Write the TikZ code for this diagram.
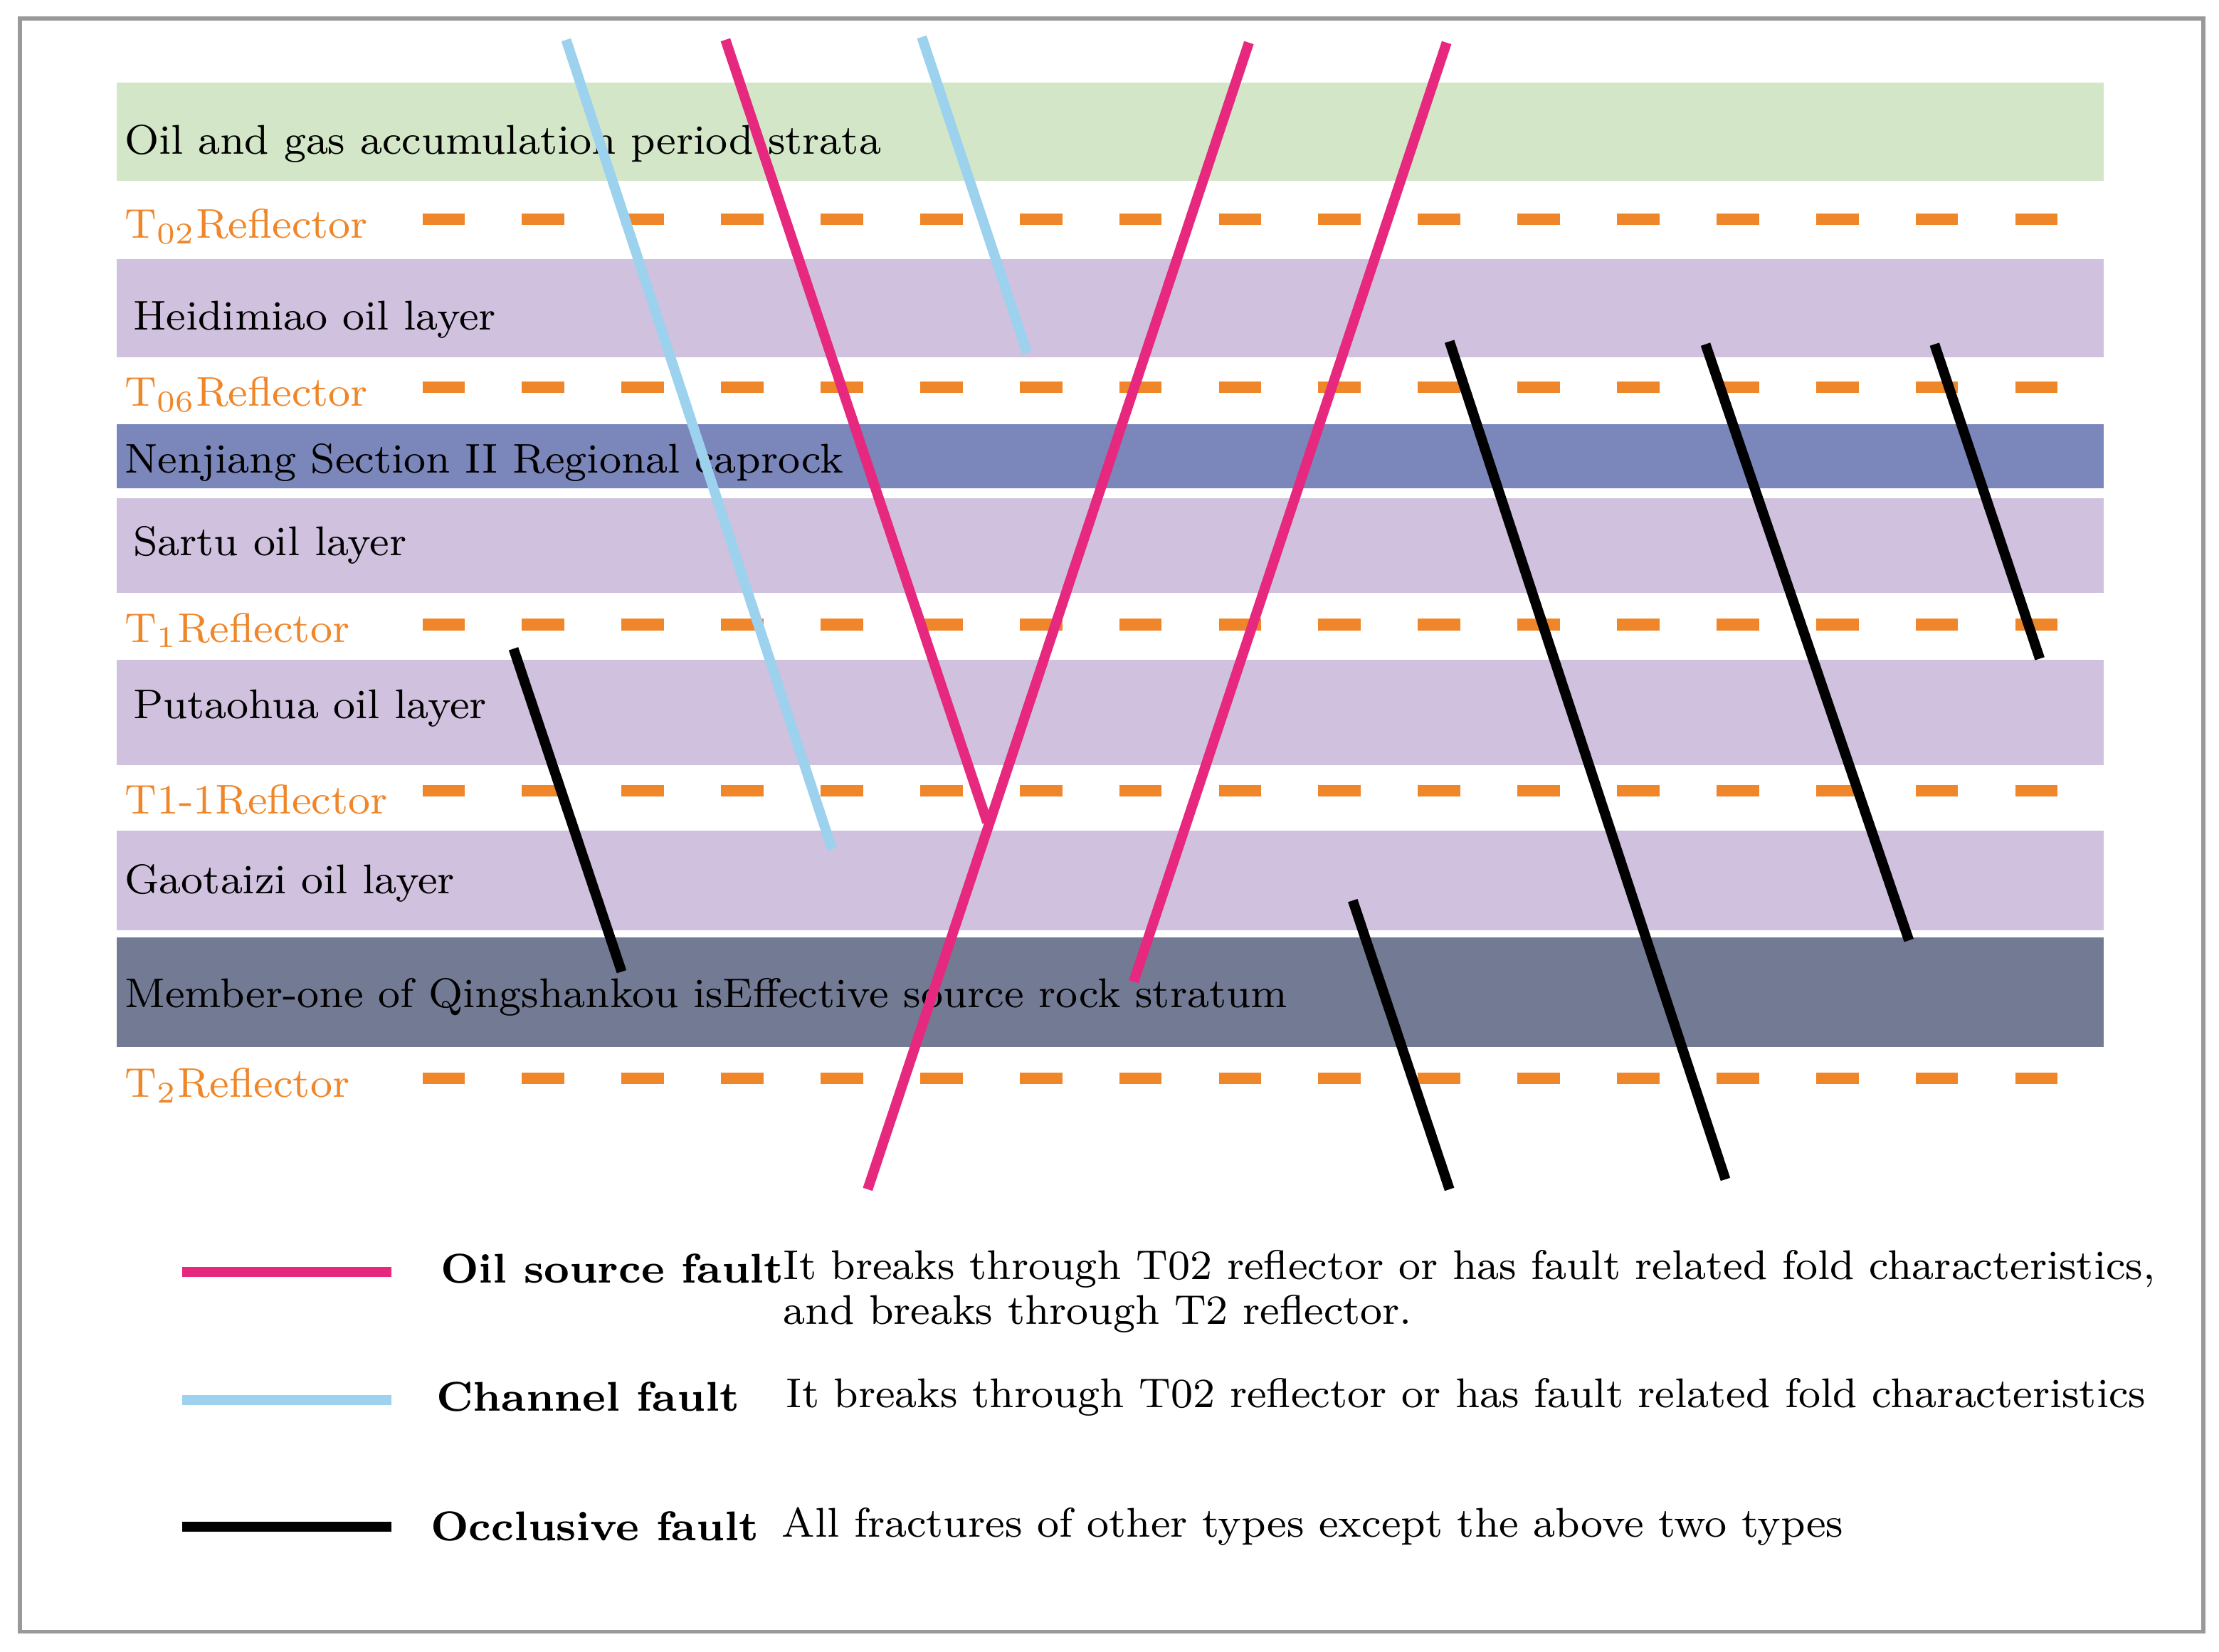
\documentclass[tikz,border=0pt]{standalone}
\usepackage{xcolor}
\definecolor{refl}{HTML}{F0862A}
\definecolor{green}{HTML}{D3E7C8}
\definecolor{lilac}{HTML}{D0C1DE}
\definecolor{caprock}{HTML}{7B86BB}
\definecolor{source}{HTML}{737A93}
\definecolor{oilf}{HTML}{E6287F}
\definecolor{chanf}{HTML}{9DD2EE}
\tikzset{
  txt/.style={anchor=west, inner sep=0pt, font=\fontsize{8.3}{10}\selectfont},
  reflector/.style={refl, line width=2.3pt, dash pattern=on 8.5pt off 11.4pt},
  fault/.style={line width=2pt}
}
\begin{document}
\begin{tikzpicture}[x=0.01cm, y=-0.01cm]
    \useasboundingbox (0,0) rectangle (1560,1161);
    \draw[gray!80, line width=0.8pt] (14,13) rectangle (1549,1147);
    % strata
    \fill[green] (82,58) rectangle (1479,127);
    \fill[lilac] (82,182) rectangle (1479,251);
    \fill[caprock] (82,298) rectangle (1479,343);
    \fill[lilac] (82,350) rectangle (1479,417);
    \fill[lilac] (82,464) rectangle (1479,538);
    \fill[lilac] (82,584) rectangle (1479,654);
    \fill[source] (82,659) rectangle (1479,736);
    % reflectors
    \foreach \y in {154,272,439,556,758}
      \draw[reflector] (297,\y) -- (1470,\y);
    \node[txt] (acc) at (87,101) {Oil and gas accumulation period strata};
    \node[txt, refl] (t02) at (87,159) {T$_{02}$Reflector};
    \node[txt] (hei) at (93,225) {Heidimiao oil layer};
    \node[txt, refl] (t06) at (87,277) {T$_{06}$Reflector};
    \node[txt] (nen) at (87,325) {Nenjiang Section II Regional caprock};
    \node[txt] (sar) at (93,383) {Sartu oil layer};
    \node[txt, refl] (t1) at (87,443) {T$_{1}$Reflector};
    \node[txt] (put) at (93,498) {Putaohua oil layer};
    \node[txt, refl] (t11) at (87,562) {T1-1Reflector};
    \node[txt] (gao) at (87,621) {Gaotaizi oil layer};
    \node[txt] (mem) at (87,701) {Member-one of Qingshankou isEffective source rock stratum};
    \node[txt, refl] (t2) at (87,763) {T$_{2}$Reflector};
    % faults
    \draw[fault, chanf] (398,28) -- (585,597);
    \draw[fault, chanf] (648,26) -- (722,248);
    \draw[fault, oilf] (510,28) -- (694,578);
    \draw[fault, oilf] (878,30) -- (610,836);
    \draw[fault, oilf] (1017,30) -- (797,690);
    \draw[fault, black] (361,456) -- (437,683);
    \draw[fault, black] (1019,240) -- (1213,829);
    \draw[fault, black] (1199,242) -- (1342,661);
    \draw[fault, black] (1360,242) -- (1434,463);
    \draw[fault, black] (951,633) -- (1019,836);
    % legend
    \draw[fault, oilf] (128,894) -- (275,894);
    \draw[fault, chanf] (128,984) -- (275,984);
    \draw[fault, black] (128,1073) -- (275,1073);
    \node[txt, font=\fontsize{8.3}{10}\selectfont\bfseries] (los) at (309,892) {Oil source fault};
    \node[txt, font=\fontsize{8.3}{10}\selectfont\bfseries] (lch) at (306,982) {Channel fault};
    \node[txt, font=\fontsize{8.3}{10}\selectfont\bfseries] (loc) at (302,1073) {Occlusive fault};
    \node[txt, align=left, anchor=north west, font=\fontsize{8.3}{9}\selectfont] (dos) at (550,878) {It breaks through T02 reflector or has fault related fold characteristics,\\and breaks through T2 reflector.};
    \node[txt] (dch) at (552,982) {It breaks through T02 reflector or has fault related fold characteristics};
    \node[txt] (doc) at (549,1073) {All fractures of other types except the above two types};
\end{tikzpicture}
\end{document}
